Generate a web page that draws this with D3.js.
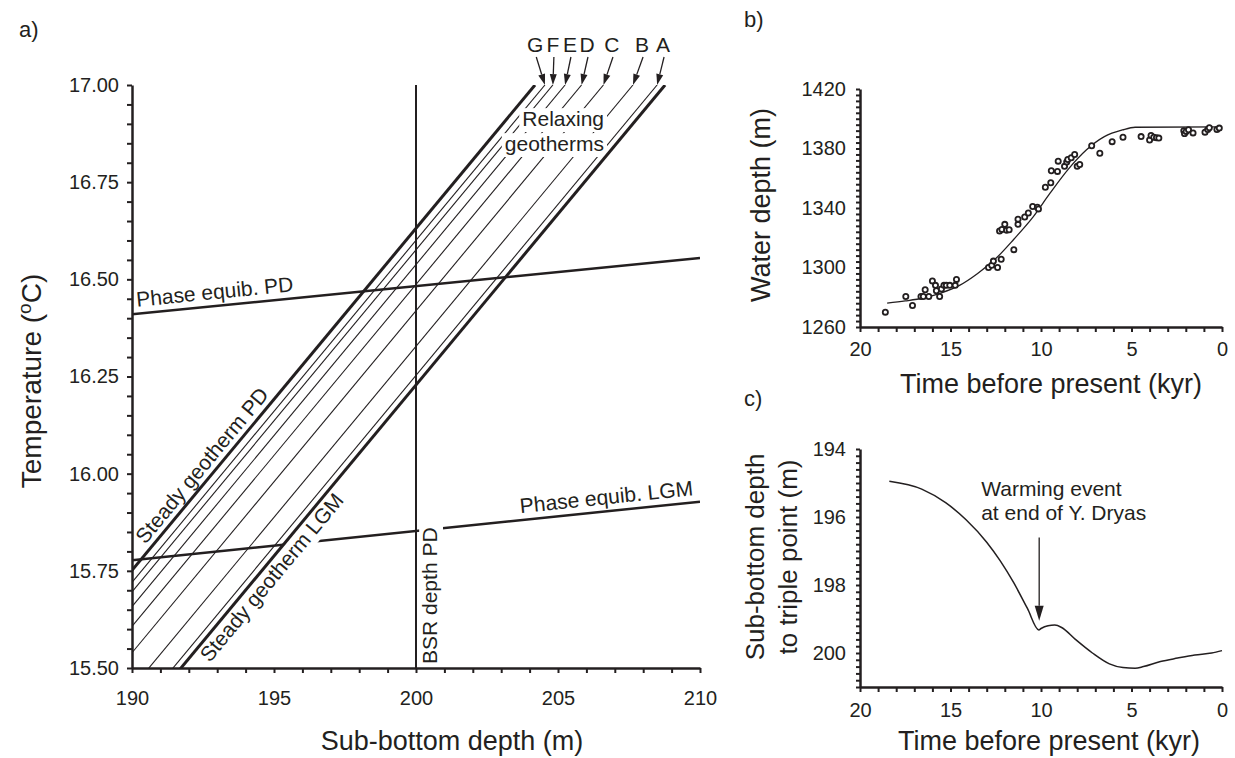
<!DOCTYPE html>
<html>
<head>
<meta charset="utf-8">
<script src="https://cdn.jsdelivr.net/npm/d3@7"></script>
<style>
body{margin:0;background:#fff}
text{font-family:"Liberation Sans",Arial,sans-serif;fill:#231f20}
</style>
</head>
<body>
<div id="chart"></div>
<script>
// ---- panel a: geotherms vs phase equilibrium ----
const gradient = 0.088 // oC per m
const geothermNames = ["Steady geotherm PD","G","F","E","D","C","B","A","Steady geotherm LGM"]
const geothermTop = [204.19,204.54,204.82,205.25,205.83,206.6,207.64,208.49,208.77] // depth (m) where T = 17.00
const letterDepth = [204.2,204.82,205.42,206.02,206.9,207.96,208.7]
const phasePD = [[190,16.41],[210,16.555]]
const phaseLGM = [[190,15.777],[210,15.928]]
const bsrDepth = 200

// ---- panel b: water depth ----
const obsTime = [18.6,17.47,17.1,16.63,16.5,16.4,16.2,16.0,15.83,15.78,15.6,15.5,15.36,15.23,15.04,14.74,14.67,12.9,12.72,12.63,12.4,12.2,12.29,12.16,12.0,11.9,11.76,11.5,11.27,11.27,10.9,10.7,10.46,10.2,10.14,9.76,9.46,9.43,9.09,9.05,8.7,8.58,8.52,8.33,8.14,8.0,7.86,7.2,6.75,6.07,5.47,4.47,4.0,3.92,3.77,3.62,3.49,2.11,2.07,1.98,1.85,1.6,0.94,0.79,0.7,0.28,0.15]
const obsDepth = [1270,1280.5,1274.5,1280.5,1280.5,1285,1280.5,1291,1288,1284.4,1280.5,1285.5,1288,1288,1288,1288,1292,1300,1301.5,1304.3,1300,1305.5,1324.5,1325.6,1329,1325,1325.4,1312,1329,1332.5,1334,1336.6,1341,1340.5,1339.4,1354,1357,1365,1364.6,1371.5,1368,1371,1372.6,1373.8,1376,1368,1369.2,1381.8,1376.8,1384.6,1387.6,1388,1385.7,1388.7,1387.6,1387.3,1387,1392,1390,1391.5,1392.6,1390.5,1391,1392.8,1394,1392.8,1393.7]
const fitTime = [18.5,17.5,16.5,15.5,14.5,13.5,12.5,11.5,10.5,9.5,8.5,7.5,6.5,5.5,4.8,0]
const fitDepth = [1276,1277.5,1279.5,1283,1288,1296,1306,1319,1333,1350,1366,1379,1388,1392.5,1394.3,1394.5]

// ---- panel c: depth to triple point ----
const tpTime = [18.38,16.59,15.27,14.14,13.0,12.25,11.5,10.75,10.12,10.0,9.61,9.24,8.86,8.1,7.16,6.22,5.47,4.8,4.34,3.4,2.45,1.5,0.57,0]
const tpDepth = [194.95,195.18,195.58,196.08,196.74,197.29,197.94,198.69,199.32,199.28,199.2,199.18,199.25,199.6,200.0,200.32,200.43,200.45,200.4,200.25,200.15,200.06,200.0,199.93]
const warming = {time: 10.1, from: 196.6, to: 199.05}

const ink = "#231f20"
const W = 1235, H = 758

const svg = d3.select("#chart").append("svg").attr("width", W).attr("height", H)

function arrow(g, x1, y1, x2, y2, len, wid){
  const a = Math.atan2(y2 - y1, x2 - x1)
  const bx = x2 - len * Math.cos(a), by = y2 - len * Math.sin(a)
  g.append("line").attr("x1", x1).attr("y1", y1).attr("x2", bx).attr("y2", by)
    .attr("stroke", ink).attr("stroke-width", 1.3)
  const px = -Math.sin(a) * wid / 2, py = Math.cos(a) * wid / 2
  g.append("path").attr("d", `M${x2},${y2}L${bx + px},${by + py}L${bx - px},${by - py}Z`).attr("fill", ink)
}

function styleAxis(g, size){
  g.attr("color", ink)
  g.select(".domain").attr("stroke-width", 2.5)
  g.selectAll(".tick line").attr("stroke-width", 2)
  g.selectAll(".tick text").attr("font-size", size).attr("font-family", null).attr("fill", ink)
}

// ================= panel a =================
const xa = d3.scaleLinear().domain([190, 210]).range([132, 700])
const ya = d3.scaleLinear().domain([15.5, 17]).range([668, 85])
const lineA = d3.line().x(d => xa(d[0])).y(d => ya(d[1]))

svg.append("clipPath").attr("id", "clipA").append("rect")
  .attr("x", 132).attr("y", 85).attr("width", 568).attr("height", 583)

const gA = svg.append("g")
const thinLayer = gA.append("g").attr("clip-path", "url(#clipA)")
const phaseLayer = gA.append("g").attr("clip-path", "url(#clipA)")
const bgLayer = gA.append("g")
const bsrLayer = gA.append("g")
const thickLayer = gA.append("g").attr("clip-path", "url(#clipA)")
const textLayer = gA.append("g")

const geotherms = geothermTop.map((top, i) => ({
  name: geothermNames[i],
  steady: i === 0 || i === geothermTop.length - 1,
  pts: [[190, 17 - gradient * (top - 190)], [top, 17]]
}))

thinLayer.selectAll("path").data(geotherms.filter(d => !d.steady)).join("path")
  .attr("d", d => lineA(d.pts)).attr("fill", "none").attr("stroke", ink).attr("stroke-width", 1.1)
thickLayer.selectAll("path").data(geotherms.filter(d => d.steady)).join("path")
  .attr("d", d => lineA(d.pts)).attr("fill", "none").attr("stroke", ink).attr("stroke-width", 3)

phaseLayer.selectAll("path").data([phasePD, phaseLGM]).join("path")
  .attr("d", d => lineA(d)).attr("fill", "none").attr("stroke", ink).attr("stroke-width", 2.5)

bsrLayer.append("line").attr("x1", xa(bsrDepth)).attr("x2", xa(bsrDepth))
  .attr("y1", ya(17)).attr("y2", ya(15.5)).attr("stroke", ink).attr("stroke-width", 2)

function label(txt, x, y, rot, opts){
  const tr = `translate(${x},${y}) rotate(${rot})`
  const g = textLayer.append("g").attr("transform", tr)
  const t = g.append("text").attr("dy", opts.dy || 0).attr("text-anchor", opts.anchor || "start")
    .attr("font-size", opts.size || 21).text(txt)
  if(opts.bg){
    const b = t.node().getBBox(), s = opts.size || 21
    bgLayer.append("rect").attr("transform", tr)
      .attr("x", b.x - 3).attr("y", b.y + 0.15 * s - 2)
      .attr("width", b.width + 6).attr("height", b.height - 0.15 * s + 4).attr("fill", "#fff")
  }
  return t
}

// pixel angle of geotherms
const geoAng = Math.atan2(ya(17) - ya(16), xa(190 + 1 / gradient) - xa(190))
const geoDeg = geoAng * 180 / Math.PI
const ca = Math.cos(geoAng), sa = Math.sin(geoAng)

const pd0 = geotherms[0].pts[0]
label("Steady geotherm PD", xa(pd0[0]) + 28 * ca, ya(pd0[1]) + 28 * sa, geoDeg, {dy: -6})
const lgmTop = geothermTop[geothermTop.length - 1]
const lgmBottom = lgmTop - 1.5 / gradient
label("Steady geotherm LGM", xa(lgmBottom) + 22 * ca, ya(15.5) + 22 * sa, geoDeg, {dy: 19, bg: true})

const phaseAng = a => Math.atan2(ya(a[1][1]) - ya(a[0][1]), xa(a[1][0]) - xa(a[0][0])) * 180 / Math.PI
const pdY = z => phasePD[0][1] + (phasePD[1][1] - phasePD[0][1]) * (z - 190) / 20
const lgY = z => phaseLGM[0][1] + (phaseLGM[1][1] - phaseLGM[0][1]) * (z - 190) / 20
label("Phase equib. PD", xa(190.2), ya(pdY(190.2)), phaseAng(phasePD), {dy: -7})
label("Phase equib. LGM", xa(209.8), ya(lgY(209.8)), phaseAng(phaseLGM), {dy: -7, anchor: "end"})

label("BSR depth PD", xa(bsrDepth) + 21, ya(15.5) - 4, -90, {bg: true})

label("Relaxing", 604, 126, 0, {anchor: "end", bg: true, size: 21})
label("geotherms", 604, 151, 0, {anchor: "end", bg: true, size: 21})

// letters and arrows
const letters = geothermNames.slice(1, 8)
letters.forEach((l, i) => {
  const lx = xa(letterDepth[i])
  textLayer.append("text").attr("x", lx).attr("y", 52).attr("text-anchor", "middle")
    .attr("font-size", 21).text(l)
  arrow(textLayer, lx + 1, 57, xa(geothermTop[i + 1]), ya(17), 11, 7)
})

// axes a
const tempMinor = d3.range(31).map(i => +(15.5 + 0.05 * i).toFixed(2))
const depthMinor = d3.range(190, 211)
const isQuarter = d => Math.abs(d * 4 - Math.round(d * 4)) < 1e-6
const axA_y = gA.append("g").attr("transform", "translate(132,0)")
  .call(d3.axisLeft(ya).tickValues(tempMinor).tickSize(5).tickSizeOuter(0).tickPadding(8)
    .tickFormat(d => isQuarter(d) ? d3.format(".2f")(d) : ""))
styleAxis(axA_y, 20)
const axA_x = gA.append("g").attr("transform", "translate(0,668)")
  .call(d3.axisBottom(xa).tickValues(depthMinor).tickSize(5).tickSizeOuter(0).tickPadding(18)
    .tickFormat(d => d % 5 === 0 ? d : ""))
styleAxis(axA_x, 20)

svg.append("text").attr("x", 452).attr("y", 750).attr("text-anchor", "middle").attr("font-size", 27)
  .text("Sub-bottom depth (m)")
const tTitle = svg.append("text").attr("transform", "translate(41,381) rotate(-90)")
  .attr("text-anchor", "middle").attr("font-size", 28)
tTitle.append("tspan").text("Temperature (")
tTitle.append("tspan").attr("dy", -10).attr("font-size", 19).text("o")
tTitle.append("tspan").attr("dy", 10).text("C)")
svg.append("text").attr("x", 19).attr("y", 37).attr("font-size", 22).text("a)")

// ================= panel b =================
const xb = d3.scaleLinear().domain([20, 0]).range([860, 1222])
const yb = d3.scaleLinear().domain([1260, 1420]).range([327, 89])
const gB = svg.append("g")
const fitPts = fitTime.map((t, i) => [t, fitDepth[i]])
gB.append("path").attr("d", d3.line().x(d => xb(d[0])).y(d => yb(d[1])).curve(d3.curveMonotoneX)(fitPts))
  .attr("fill", "none").attr("stroke", ink).attr("stroke-width", 1.3)
gB.selectAll("circle").data(obsTime.map((t, i) => [t, obsDepth[i]])).join("circle")
  .attr("cx", d => xb(d[0])).attr("cy", d => yb(d[1])).attr("r", 2.6)
  .attr("fill", "#fff").attr("stroke", ink).attr("stroke-width", 1.8)

const timeMinor = d3.range(0, 21)
const axB_x = gB.append("g").attr("transform", "translate(0,327)")
  .call(d3.axisBottom(xb).tickValues(timeMinor).tickSize(5).tickSizeOuter(0).tickPadding(10)
    .tickFormat(d => d % 5 === 0 ? d : ""))
styleAxis(axB_x, 20)
const axB_y = gB.append("g").attr("transform", "translate(860,0)")
  .call(d3.axisLeft(yb).tickValues(d3.range(1260, 1421, 4)).tickSize(4).tickSizeOuter(0).tickPadding(10)
    .tickFormat(d => (d - 1260) % 40 === 0 ? d : ""))
styleAxis(axB_y, 20)
svg.append("text").attr("x", 1051).attr("y", 393).attr("text-anchor", "middle").attr("font-size", 27)
  .text("Time before present (kyr)")
svg.append("text").attr("transform", "translate(770,205) rotate(-90)").attr("text-anchor", "middle")
  .attr("font-size", 27).text("Water depth (m)")
svg.append("text").attr("x", 744).attr("y", 27).attr("font-size", 22).text("b)")

// ================= panel c =================
const xc = d3.scaleLinear().domain([20, 0]).range([860, 1222])
const yc = d3.scaleLinear().domain([194, 201]).range([449, 687])
const gC = svg.append("g")
const tpPts = tpTime.map((t, i) => [t, tpDepth[i]])
gC.append("path").attr("d", d3.line().x(d => xc(d[0])).y(d => yc(d[1])).curve(d3.curveMonotoneX)(tpPts))
  .attr("fill", "none").attr("stroke", ink).attr("stroke-width", 1.5)

arrow(gC, xc(warming.time), yc(warming.from), xc(warming.time), yc(warming.to), 15, 9)
gC.append("text").attr("x", xc(warming.time) - 58).attr("y", yc(warming.from) - 41).attr("font-size", 21)
  .text("Warming event")
gC.append("text").attr("x", xc(warming.time) - 58).attr("y", yc(warming.from) - 17).attr("font-size", 21)
  .text("at end of Y. Dryas")

const axC_x = gC.append("g").attr("transform", "translate(0,687)")
  .call(d3.axisBottom(xc).tickValues(timeMinor).tickSize(5).tickSizeOuter(0).tickPadding(11)
    .tickFormat(d => d % 5 === 0 ? d : ""))
styleAxis(axC_x, 20)
const tpMinor = d3.range(36).map(i => +(194 + 0.2 * i).toFixed(1))
const isEven = d => Math.abs(d - Math.round(d)) < 1e-6 && Math.round(d) % 2 === 0
const axC_y = gC.append("g").attr("transform", "translate(860,0)")
  .call(d3.axisLeft(yc).tickValues(tpMinor).tickSize(4).tickSizeOuter(0).tickPadding(10)
    .tickFormat(d => isEven(d) ? d : ""))
styleAxis(axC_y, 20)
svg.append("text").attr("x", 1049).attr("y", 750).attr("text-anchor", "middle").attr("font-size", 27)
  .text("Time before present (kyr)")
svg.append("text").attr("transform", "translate(764,557) rotate(-90)").attr("text-anchor", "middle")
  .attr("font-size", 26).text("Sub-bottom depth")
svg.append("text").attr("transform", "translate(797,557) rotate(-90)").attr("text-anchor", "middle")
  .attr("font-size", 26).text("to triple point (m)")
svg.append("text").attr("x", 744).attr("y", 406).attr("font-size", 22).text("c)")
</script>
</body>
</html>
